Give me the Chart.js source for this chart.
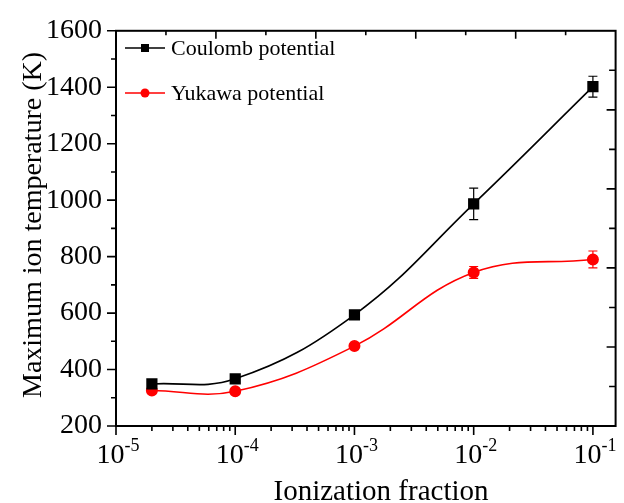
<!DOCTYPE html>
<html><head><meta charset="utf-8">
<script src="https://cdn.jsdelivr.net/npm/chart.js@4/dist/chart.umd.min.js"></script>
<style>html,body{margin:0;padding:0;background:#fff;}#wrap{width:624px;height:503px;position:relative;}</style>
</head><body><div id="wrap"><canvas id="c" width="624" height="503"></canvas></div>
<script>
const xValues = [2e-5, 1e-4, 1e-3, 1e-2, 1e-1];
const coulombValues = [349, 367, 594, 987, 1402];
const coulombErrors = [8, 6, 8, 56, 37];
const yukawaValues = [326, 323, 483, 744, 790];
const yukawaErrors = [10, 6, 8, 21, 30];
const seriesNames = ['Coulomb potential', 'Yukawa potential'];
const seriesColors = ['#000000', '#ff0000'];
const xTickExponents = [-5, -4, -3, -2, -1];
const yTickValues = [200, 400, 600, 800, 1000, 1200, 1400, 1600];
const xTitle = 'Ionization fraction';
const yTitle = 'Maximum ion temperature (K)';

const FONT = "'Liberation Serif', 'Times New Roman', serif";

function pts(vals) { return xValues.map((x, i) => ({x: x, y: vals[i]})); }
const errorsBySeries = [coulombErrors, yukawaErrors];

const framePlugin = {
  id: 'frame',
  beforeDatasetsDraw(chart) {
    const ctx = chart.ctx, xs = chart.scales.x, ys = chart.scales.y;
    ctx.save();
    chart.data.datasets.forEach((ds, di) => {
      const errs = errorsBySeries[di];
      ctx.strokeStyle = seriesColors[di];
      ctx.lineWidth = 1.2;
      ds.data.forEach((p, i) => {
        const e = errs[i];
        const px = xs.getPixelForValue(p.x);
        const y1 = ys.getPixelForValue(p.y - e), y2 = ys.getPixelForValue(p.y + e);
        ctx.beginPath();
        ctx.moveTo(px, y1); ctx.lineTo(px, y2);
        ctx.moveTo(px - 4.5, y1); ctx.lineTo(px + 4.5, y1);
        ctx.moveTo(px - 4.5, y2); ctx.lineTo(px + 4.5, y2);
        ctx.stroke();
      });
    });
    ctx.restore();
  },
  afterDraw(chart) {
    const ctx = chart.ctx, a = chart.chartArea;
    const xs = chart.scales.x, ys = chart.scales.y, xt = chart.scales.x2, yr = chart.scales.y2;
    ctx.save();
    ctx.strokeStyle = '#000';
    ctx.fillStyle = '#000';
    // frame
    ctx.lineWidth = 2;
    ctx.strokeRect(a.left, a.top, a.right - a.left, a.bottom - a.top);
    ctx.lineWidth = 1.6;
    ctx.beginPath();
    // left ticks (outward)
    for (let v = ys.min; v <= ys.max; v += 100) {
      const y = ys.getPixelForValue(v);
      const len = (v % 200 === 0) ? 9 : 5;
      ctx.moveTo(a.left, y); ctx.lineTo(a.left - len, y);
    }
    // bottom ticks (outward)
    for (const e of xTickExponents.concat([xTickExponents[0] - 1])) {
      for (let m = 1; m <= 9; m++) {
        const v = m * Math.pow(10, e);
        if (v < xs.min * 0.999 || v > xs.max) continue;
        const x = xs.getPixelForValue(v);
        const len = m === 1 ? 9 : 5;
        ctx.moveTo(x, a.bottom); ctx.lineTo(x, a.bottom + len);
      }
    }
    // top ticks (inward)
    for (let v = 1; v < 10; v++) {
      const x = xt.getPixelForValue(v);
      const len = v % 2 === 0 ? 8 : 4.5;
      ctx.moveTo(x, a.top); ctx.lineTo(x, a.top + len);
    }
    // right ticks (inward)
    for (let v = 1; v < 10; v++) {
      const y = yr.getPixelForValue(v);
      const len = v % 2 === 0 ? 9 : 6.5;
      ctx.moveTo(a.right, y); ctx.lineTo(a.right - len, y);
    }
    ctx.stroke();

    // x tick labels 10^e
    ctx.textBaseline = 'alphabetic';
    ctx.textAlign = 'left';
    for (const e of xTickExponents) {
      const x = xs.getPixelForValue(Math.pow(10, e));
      const base = '10', sup = '-' + Math.abs(e);
      ctx.font = '28px ' + FONT;
      const wb = ctx.measureText(base).width;
      ctx.font = '18px ' + FONT;
      const ws = ctx.measureText(sup).width;
      const x0 = x + 2 - (wb + ws) / 2;
      ctx.font = '28px ' + FONT;
      ctx.fillText(base, x0, 463);
      ctx.font = '18px ' + FONT;
      ctx.fillText(sup, x0 + wb, 451);
    }

    // axis titles
    ctx.textAlign = 'center';
    ctx.font = '29px ' + FONT;
    ctx.fillText(xTitle, 381, 500);
    ctx.save();
    ctx.font = '28px ' + FONT;
    ctx.translate(41, 225);
    ctx.rotate(-Math.PI / 2);
    ctx.fillText(yTitle, 0, 0);
    ctx.restore();

    // legend
    ctx.textAlign = 'left';
    ctx.textBaseline = 'middle';
    ctx.font = '22px ' + FONT;
    seriesNames.forEach((name, i) => {
      const y = 48 + i * 45;
      ctx.strokeStyle = seriesColors[i];
      ctx.fillStyle = seriesColors[i];
      ctx.lineWidth = 1.6;
      ctx.beginPath(); ctx.moveTo(125, y); ctx.lineTo(165, y); ctx.stroke();
      ctx.beginPath();
      if (i === 0) { ctx.rect(145 - 4, y - 4, 8, 8); }
      else { ctx.arc(145, y, 4.5, 0, Math.PI * 2); }
      ctx.fill();
      ctx.fillStyle = '#000';
      ctx.fillText(name, 171, y + 1);
    });
    ctx.restore();
  }
};

new Chart(document.getElementById('c'), {
  type: 'line',
  data: {
    datasets: [
      { label: seriesNames[0], data: pts(coulombValues), borderColor: seriesColors[0], backgroundColor: seriesColors[0],
        borderWidth: 1.6, pointStyle: 'rect', pointRadius: 6.8, pointHoverRadius: 6.8, tension: 0.4, fill: false },
      { label: seriesNames[1], data: pts(yukawaValues), borderColor: seriesColors[1], backgroundColor: seriesColors[1],
        borderWidth: 1.6, pointStyle: 'circle', pointRadius: 5.2, pointHoverRadius: 5.2, tension: 0.4, fill: false }
    ]
  },
  options: {
    responsive: false,
    animation: false,
    devicePixelRatio: 1,
    events: [],
    layout: { padding: { top: 20, right: 6, left: 0, bottom: 0 } },
    plugins: { legend: { display: false }, tooltip: { enabled: false } },
    scales: {
      x: { type: 'logarithmic', min: 1e-5, max: 0.155, position: 'bottom',
           grid: { display: false, drawTicks: false }, border: { display: false },
           ticks: { display: false }, afterFit: s => { s.height = 77; } },
      y: { type: 'linear', min: 200, max: 1600, position: 'left',
           grid: { display: false, drawTicks: false }, border: { display: false },
           afterBuildTicks: s => { s.ticks = yTickValues.map(v => ({value: v})); },
           ticks: { color: '#000', padding: 14, font: { family: FONT, size: 28 },
                    callback: v => String(v) },
           afterFit: s => { s.width = 116; } },
      x2: { type: 'linear', min: 0, max: 10, position: 'top', display: false },
      y2: { type: 'linear', min: 0, max: 10, position: 'right', display: false }
    }
  },
  plugins: [framePlugin]
});
</script>
</body></html>
